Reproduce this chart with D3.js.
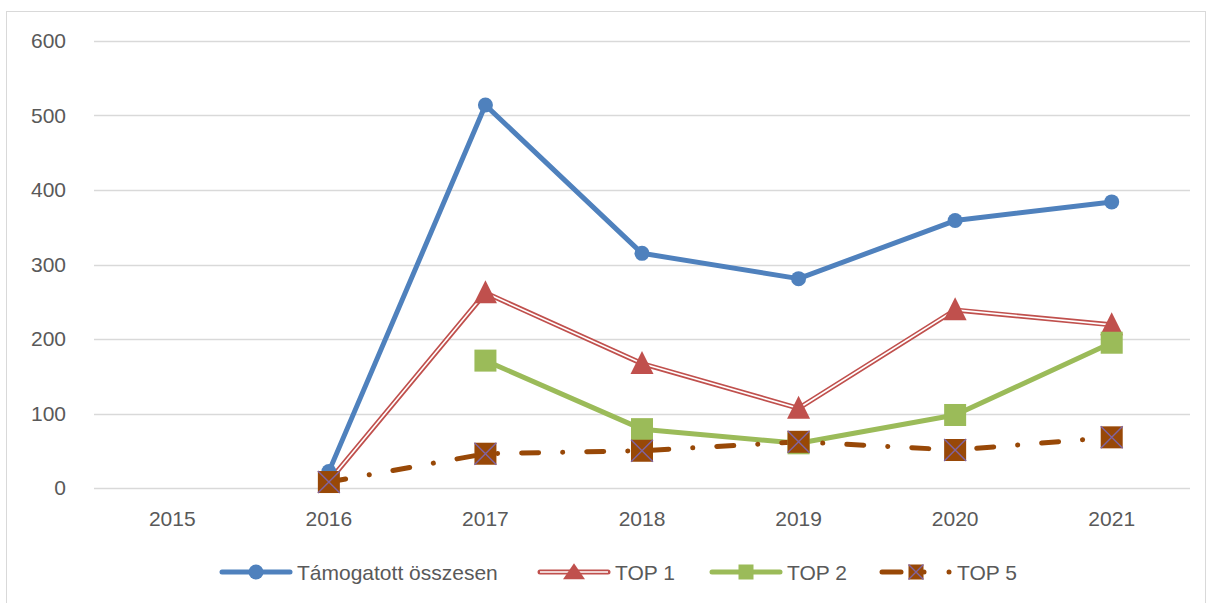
<!DOCTYPE html>
<html>
<head>
<meta charset="utf-8">
<script src="https://cdn.jsdelivr.net/npm/d3@7"></script>
<style>
  body { margin: 0; background: #fff; }
  text { font-family: "Liberation Sans", Arial, sans-serif; fill: #595959; }
</style>
</head>
<body>
<div id="chart"></div>
<script>
var years = ["2015", "2016", "2017", "2018", "2019", "2020", "2021"];
var osszesen = [null, 22, 514, 315, 281, 359, 384];
var top1 = [null, 9, 262, 167, 107, 239, 219];
var top2 = [null, null, 171, 79, 60, 98, 195];
var top5 = [null, 8, 46, 50, 62, 51, 68];
var yTicks = [0, 100, 200, 300, 400, 500, 600];

var svgWidth = 1213, svgHeight = 603;
var margin = { top: 41, right: 23, bottom: 115, left: 94 };
var chartWidth = svgWidth - margin.left - margin.right;
var chartHeight = svgHeight - margin.top - margin.bottom;

var svg = d3.select("#chart").append("svg")
  .attr("width", svgWidth)
  .attr("height", svgHeight);

// outer frame
svg.append("rect")
  .attr("x", 6.5).attr("y", 11.5)
  .attr("width", 1199).attr("height", 600)
  .attr("fill", "none").attr("stroke", "#d9d9d9");

var g = svg.append("g").attr("transform", `translate(${margin.left},${margin.top})`);

var x = d3.scaleBand().domain(years).range([0, chartWidth]);
var y = d3.scaleLinear().domain([0, 600]).range([chartHeight, 0]);
var cx = function(i) { return x(years[i]) + x.bandwidth() / 2; };

// gridlines
g.append("g").selectAll("line").data(yTicks).enter().append("line")
  .attr("x1", 0).attr("x2", chartWidth)
  .attr("y1", d => Math.round(y(d)) + 0.5).attr("y2", d => Math.round(y(d)) + 0.5)
  .attr("stroke", "#d9d9d9").attr("stroke-width", 1.3);

var yAxis = g.append("g").call(d3.axisLeft(y).tickValues(yTicks).tickSize(0).tickPadding(28));
yAxis.select(".domain").remove();
yAxis.selectAll("text").attr("font-size", 21).style("fill", "#595959");

var xAxis = g.append("g").attr("transform", `translate(0,${chartHeight})`)
  .call(d3.axisBottom(x).tickSize(0).tickPadding(23));
xAxis.select(".domain").remove();
xAxis.selectAll("text").attr("font-size", 21).style("fill", "#595959");

function pts(vals) {
  return vals.map((v, i) => ({ i: i, v: v })).filter(d => d.v !== null);
}
var line = d3.line().x(d => cx(d.i)).y(d => y(d.v));

// TOP 1 (double line)
g.append("path").datum(pts(top1)).attr("d", line).attr("fill", "none")
  .attr("stroke", "#C0504D").attr("stroke-width", 5);
g.append("path").datum(pts(top1)).attr("d", line).attr("fill", "none")
  .attr("stroke", "#fff").attr("stroke-width", 1.6);

// Támogatott összesen
g.append("path").datum(pts(osszesen)).attr("d", line).attr("fill", "none")
  .attr("stroke", "#4F81BD").attr("stroke-width", 5).attr("stroke-linejoin", "round");

// TOP 2
g.append("path").datum(pts(top2)).attr("d", line).attr("fill", "none")
  .attr("stroke", "#9BBB59").attr("stroke-width", 5).attr("stroke-linejoin", "round");

// TOP 5 dash-dot
g.append("path").datum(pts(top5)).attr("d", line).attr("fill", "none")
  .attr("stroke", "#984807").attr("stroke-width", 5)
  .attr("stroke-linecap", "round").attr("stroke-dasharray", "17,24,0.1,24");

// markers
function circleM(sel, px, py, r) {
  sel.append("circle").attr("cx", px).attr("cy", py).attr("r", r || 7.5).attr("fill", "#4F81BD");
}
function triM(sel, px, py, w, h) {
  w = w || 23; h = h || 23;
  sel.append("path")
    .attr("d", `M${px},${py - h * 0.55}L${px + w / 2},${py + h * 0.45}L${px - w / 2},${py + h * 0.45}Z`)
    .attr("fill", "#C0504D");
}
function sqM(sel, px, py, s) {
  s = s || 22;
  sel.append("rect").attr("x", px - s / 2).attr("y", py - s / 2).attr("width", s).attr("height", s)
    .attr("fill", "#9BBB59");
}
function xM(sel, px, py, s) {
  s = s || 22;
  var h = s / 2;
  sel.append("rect").attr("x", px - h).attr("y", py - h).attr("width", s).attr("height", s)
    .attr("fill", "#984807");
  sel.append("path").attr("d", `M${px - h},${py - h}L${px + h},${py + h}M${px + h},${py - h}L${px - h},${py + h}`)
    .attr("stroke", "#8064A2").attr("stroke-width", 1.4);
}

pts(osszesen).forEach(d => circleM(g, cx(d.i), y(d.v)));
pts(top1).filter(d => d.i > 1).forEach(d => triM(g, cx(d.i), y(d.v)));
pts(top2).forEach(d => sqM(g, cx(d.i), y(d.v)));
pts(top5).forEach(d => xM(g, cx(d.i), y(d.v)));

// legend
var legendY = 572;
var legend = svg.append("g").attr("transform", `translate(0,${legendY})`);
var items = [
  { name: "Támogatott összesen", x: 220, color: "#4F81BD", style: "circle" },
  { name: "TOP 1", x: 538, color: "#C0504D", style: "double" },
  { name: "TOP 2", x: 710, color: "#9BBB59", style: "square" },
  { name: "TOP 5", x: 880, color: "#984807", style: "dash" }
];
items.forEach(function(it) {
  var lg = legend.append("g");
  var mx = it.x + 36;
  if (it.style === "dash") {
    lg.append("line").attr("x1", it.x + 2).attr("x2", it.x + 21).attr("y1", 0).attr("y2", 0)
      .attr("stroke", it.color).attr("stroke-width", 5).attr("stroke-linecap", "round");
    lg.append("circle").attr("cx", mx + 8).attr("cy", 0).attr("r", 2.5).attr("fill", it.color);
    lg.append("circle").attr("cx", it.x + 69).attr("cy", 0).attr("r", 2.5).attr("fill", it.color);
    xM(lg, mx, 0, 15);
  } else {
    lg.append("line").attr("x1", it.x + 2).attr("x2", it.x + 70).attr("y1", 0).attr("y2", 0)
      .attr("stroke", it.color).attr("stroke-width", 5).attr("stroke-linecap", "round");
    if (it.style === "double") {
      lg.append("line").attr("x1", it.x + 2).attr("x2", it.x + 70).attr("y1", 0).attr("y2", 0)
        .attr("stroke", "#fff").attr("stroke-width", 1.6);
      triM(lg, mx, 0, 22, 16);
    } else if (it.style === "circle") {
      circleM(lg, mx, 0);
    } else {
      sqM(lg, mx, 0, 15);
    }
  }
  lg.append("text").attr("x", it.x + 77).attr("y", 8)
    .attr("font-size", 21).text(it.name);
});
</script>
</body>
</html>
